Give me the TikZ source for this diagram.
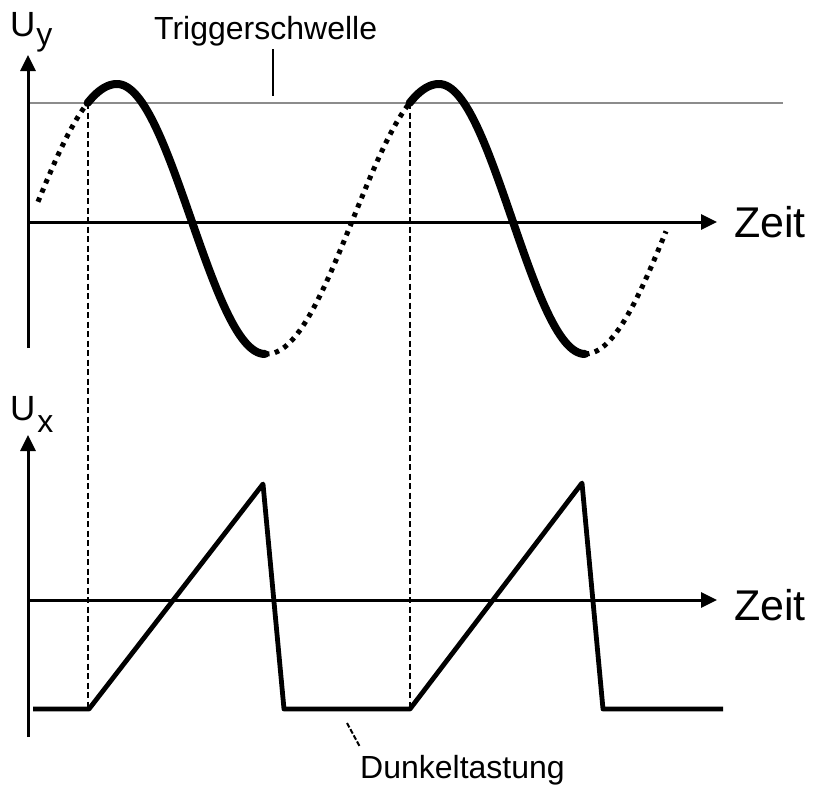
\documentclass[tikz,border=0pt]{standalone}
\usepackage{fontspec}
\setmainfont{Liberation Sans}
\usetikzlibrary{arrows.meta}
\newcommand\mysubfont{\fontsize{32}{38}\selectfont}
\begin{document}
\begin{tikzpicture}[x=1pt,y=-1pt,
  declare function={rise(\x,\p)=219-135*sin(90+(\x-\p)/172*180);
                    fall(\x,\p,\w)=219-135*sin(90+(\x-\p)/\w*180);},
  axisline/.style={line width=3pt,-{Triangle[length=16pt,width=15pt]}},
  thickwave/.style={line width=8pt,line cap=round,line join=round},
  dotwave/.style={line width=5pt,dash pattern=on 4.5pt off 5.5pt},
  guide/.style={line width=2.3pt,dash pattern=on 6pt off 3.5pt},
  sawline/.style={line width=4.8pt,line join=round},
  thresh/.style={line width=2.2pt,black!45},
  tickline/.style={line width=2pt},
  biglabel/.style={font=\fontsize{43}{48}\selectfont,inner sep=0pt,anchor=base west},
  axlabel/.style={font=\fontsize{35}{40}\selectfont,inner sep=0pt,anchor=base west},
  midlabel/.style={font=\fontsize{32}{36}\selectfont,inner sep=0pt,anchor=base west}]
\useasboundingbox (0,0) rectangle (814,785);

% coordinates
\coordinate (ytop0) at (28,348);
\coordinate (ytop1) at (28,55);
\coordinate (xtop0) at (28,222);
\coordinate (xtop1) at (717,222);
\coordinate (ybot0) at (28,737);
\coordinate (ybot1) at (28,435);
\coordinate (xbot0) at (28,600);
\coordinate (xbot1) at (717,600);
\coordinate (th0) at (28,103);
\coordinate (th1) at (783,103);
\coordinate (trigA) at (273,49);
\coordinate (trigB) at (273,96);
\coordinate (dunA) at (347,723);
\coordinate (dunB) at (360,747);
\coordinate (g1a) at (88,103);
\coordinate (g1b) at (88,709);
\coordinate (g2a) at (410,103);
\coordinate (g2b) at (410,709);

% threshold
\draw[thresh] (th0) -- (th1);

% guide lines
\draw[guide] (g1a) -- (g1b);
\draw[guide] (g2a) -- (g2b);

% axes
\draw[axisline] (ytop0) -- (ytop1);
\draw[axisline] (xtop0) -- (xtop1);
\draw[axisline] (ybot0) -- (ybot1);
\draw[axisline] (xbot0) -- (xbot1);

% signal (sine)
\draw[dotwave] plot[domain=38:87.6,samples=40,smooth] (\x,{rise(\x,117)});
\draw[thickwave] plot[domain=87.6:117,samples=20,smooth] (\x,{rise(\x,117)})
   -- plot[domain=117:265,samples=60,smooth] (\x,{fall(\x,117,148)});
\draw[dotwave] plot[domain=265:409.6,samples=60,smooth] (\x,{rise(\x,439)});
\draw[thickwave] plot[domain=409.6:439,samples=20,smooth] (\x,{rise(\x,439)})
   -- plot[domain=439:585,samples=60,smooth] (\x,{fall(\x,439,146)});
\draw[dotwave] plot[domain=585:666,samples=40,smooth] (\x,{rise(\x,757)});

% sawtooth
\draw[sawline] (33,709) -- (89,709) -- (263,484) -- (284,709) -- (410,709)
   -- (582,483) -- (603,709) -- (723,709);

% ticks
\draw[tickline] (trigA) -- (trigB);
\draw[tickline,dash pattern=on 5pt off 2pt] (dunA) -- (dunB);

% labels
\node[axlabel] (uy) at (10,36) {U\kern1pt\raisebox{-9pt}{\mysubfont y}};
\node[axlabel] (ux) at (10,420) {U\kern2pt\raisebox{-12pt}{\mysubfont x}};
\node[biglabel] (zeit1) at (734,237) {Zeit};
\node[biglabel] (zeit2) at (734,620) {Zeit};
\node[midlabel] (trig) at (154,39) {Triggerschwelle};
\node[midlabel] (dunkel) at (360,778) {Dunkeltastung};
\end{tikzpicture}
\end{document}
